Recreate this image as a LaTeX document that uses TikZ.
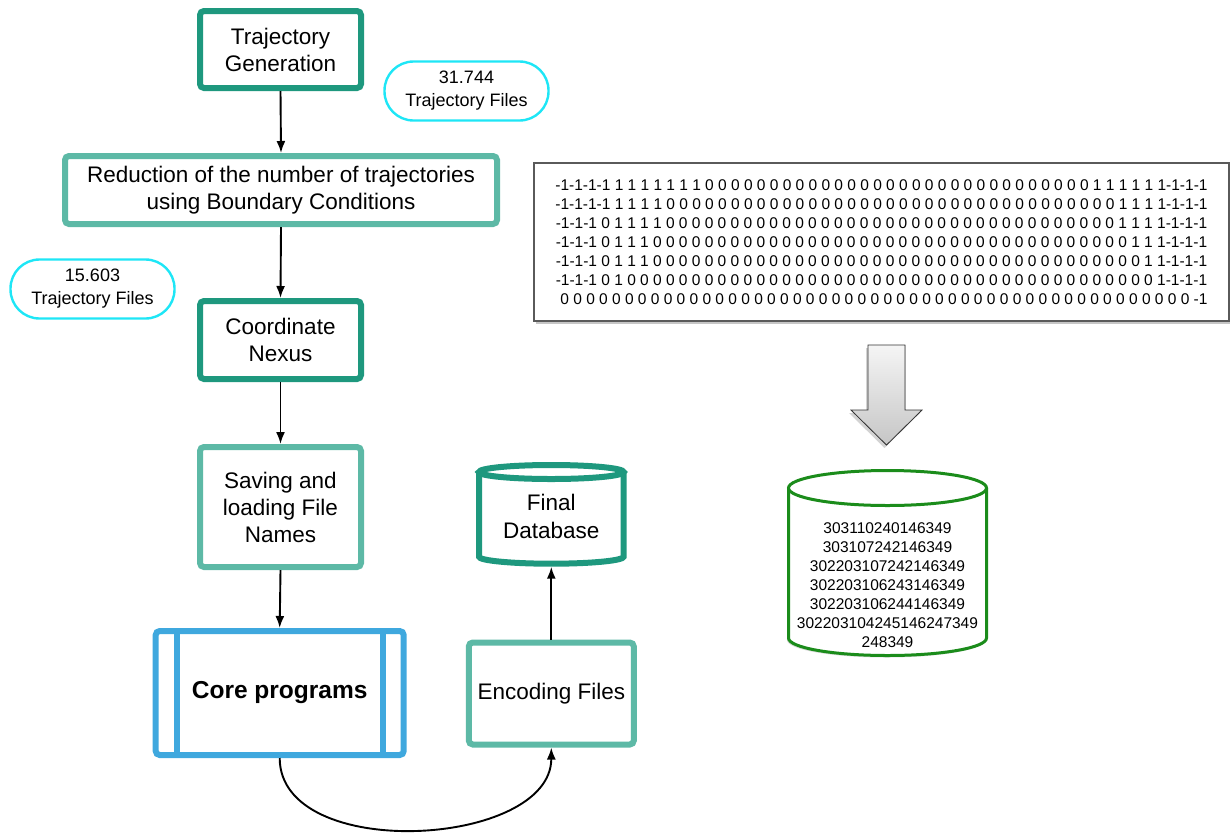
\documentclass[tikz,border=0pt]{standalone}
\usepackage{fontspec}
\setmainfont{Liberation Sans}
\usetikzlibrary{arrows.meta,shadows}
\definecolor{tealdark}{HTML}{1E987E}
\definecolor{teallight}{HTML}{5DB9A6}
\definecolor{coreblue}{HTML}{3FA8DE}
\definecolor{pillcyan}{HTML}{1EE6F6}
\definecolor{dbgreen}{HTML}{1B8C1B}
\definecolor{framegray}{HTML}{5A5A5A}

\begin{document}
\begin{tikzpicture}[x=1pt,y=-1pt,
  box/.style={draw,line width=6pt,rounded corners=4pt,fill=white,align=center,
    inner sep=0pt,font=\fontsize{22.5}{27}\selectfont},
  darkbox/.style={box,draw=tealdark},
  lightbox/.style={box,draw=teallight},
  pill/.style={draw=pillcyan,line width=2.4pt,rounded corners=29pt,fill=white,
    align=center,inner sep=0pt,minimum width=164pt,minimum height=59pt,
    font=\fontsize{18}{23}\selectfont},
  codes/.style={align=center,inner sep=0pt,font=\fontsize{15.5}{19}\selectfont},
  flow/.style={line width=1.9pt,-{Latex[length=12pt,width=9pt]}}]
\useasboundingbox (0,0) rectangle (1230,833);

% left column
\node[darkbox,minimum width=161pt,minimum height=77pt] (gen) at (280.5,49.5) {Trajectory\\Generation};
\node[pill] (n31) at (466.5,91) {31.744\\Trajectory Files};
\node[lightbox,minimum width=432pt,minimum height=68pt] (red) at (281,190)
  {Reduction of the number of trajectories\\using Boundary Conditions};
\node[pill] (n15) at (92.5,289) {15.603\\Trajectory Files};
\node[darkbox,minimum width=161pt,minimum height=78pt] (nexus) at (280.5,340) {Coordinate\\Nexus};
\node[lightbox,minimum width=161pt,minimum height=120pt] (save) at (280.5,507)
  {Saving and\\loading File\\Names};
\node[box,draw=coreblue,minimum width=248pt,minimum height=124pt,
  font=\fontsize{24.5}{29}\selectfont\bfseries] (core) at (279.7,693) {Core programs};
\draw[coreblue,line width=6pt] ([xshift=24pt]core.north west) -- ([xshift=24pt]core.south west);
\draw[coreblue,line width=6pt] ([xshift=-24pt]core.north east) -- ([xshift=-24pt]core.south east);
\node[lightbox,minimum width=165pt,minimum height=102pt] (enc) at (551.3,693.5) {Encoding Files};

% final database
\filldraw[draw=tealdark,fill=white,line width=6pt] (479,472) -- (479,556.7)
  arc[start angle=180,end angle=0,x radius=72.3,y radius=7] -- (623.6,472);
\filldraw[draw=tealdark,fill=white,line width=6pt] (551.3,472) ellipse[x radius=72.3,y radius=7];
\node[align=center,inner sep=0pt,outer sep=0pt,minimum width=150pt,minimum height=101.4pt,
  font=\fontsize{22.5}{28}\selectfont] (findb) at (551.3,516) {Final\\Database};

\draw[flow] (gen.south) -- (red.north);
\draw[flow] (red.south) -- (nexus.north);
\draw[flow] (nexus.south) -- (save.north);
\draw[flow] (save.south) -- (core.north);
\draw[flow] (enc.north) -- (findb.south);
\draw[flow] (core.south) .. controls +(0,105) and +(0,100) .. (enc.south);

% trajectory matrix
\node[codes,draw=framegray,line width=1.5pt,fill=white,minimum width=695pt,minimum height=158pt,
  drop shadow={shadow xshift=2pt,shadow yshift=-3pt,opacity=0.45}] (grid) at (881.5,242) {%
-1-1-1-1 1 1 1 1 1 1 1 0 0 0 0 0  0 0 0 0 0  0 0 0 0 0  0 0 0 0 0  0 0 0 0 0  0 0 0 0 0 1 1 1 1 1 1-1-1-1\\
-1-1-1-1 1 1 1 1 0 0 0 0 0  0 0 0 0 0  0 0 0 0 0  0 0 0 0 0  0 0 0 0 0  0 0 0 0 0  0 0 0 0 0 1 1 1 1-1-1-1\\
-1-1-1 0 1 1 1 1 0 0 0 0 0  0 0 0 0 0  0 0 0 0 0  0 0 0 0 0  0 0 0 0 0  0 0 0 0 0  0 0 0 0 0 1 1 1 1-1-1-1\\
-1-1-1 0 1 1 1 0 0 0 0 0  0 0 0 0 0  0 0 0 0 0  0 0 0 0 0  0 0 0 0 0  0 0 0 0 0  0 0 0 0 0  0 0 1 1 1-1-1-1\\
-1-1-1 0 1 1 1 0 0 0 0 0  0 0 0 0 0  0 0 0 0 0  0 0 0 0 0  0 0 0 0 0  0 0 0 0 0  0 0 0 0 0  0 0 0 1 1-1-1-1\\
-1-1-1 0 1 0 0 0 0 0  0 0 0 0 0  0 0 0 0 0  0 0 0 0 0  0 0 0 0 0  0 0 0 0 0  0 0 0 0 0  0 0 0 0 0  0 1-1-1-1\\
\hspace{5pt}0 0 0 0 0  0 0 0 0 0  0 0 0 0 0  0 0 0 0 0  0 0 0 0 0  0 0 0 0 0  0 0 0 0 0  0 0 0 0 0  0 0 0 0 0  0 0 0 0 -1};

% block arrow
\filldraw[draw=black!80,line width=0.8pt,top color=gray!8,bottom color=gray!45,
  drop shadow={shadow xshift=-2pt,shadow yshift=-3pt,opacity=0.35}]
  (868,345) -- (905,345) -- (905,410) -- (922,410) -- (886.5,445) -- (851,410) -- (868,410) -- cycle;

% encoded database
\filldraw[draw=dbgreen,fill=white,line width=3pt,
  drop shadow={shadow xshift=-1.5pt,shadow yshift=-2pt,opacity=0.3}] (788.5,488) -- (788.5,638)
  arc[start angle=180,end angle=0,x radius=99,y radius=17.5] -- (986.5,488);
\filldraw[draw=dbgreen,fill=white,line width=3pt] (887.5,488) ellipse[x radius=99,y radius=17.5];
\node[codes] (codedb) at (887.5,585.5) {303110240146349\\303107242146349\\302203107242146349\\
  302203106243146349\\302203106244146349\\302203104245146247349\\248349};
\end{tikzpicture}
\end{document}
